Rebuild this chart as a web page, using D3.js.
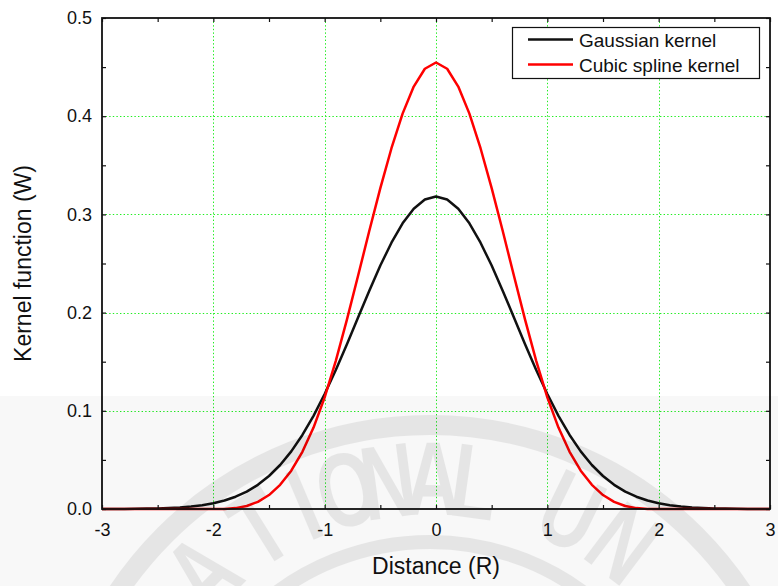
<!DOCTYPE html>
<html>
<head>
<meta charset="utf-8">
<script src="https://cdn.jsdelivr.net/npm/d3@7"></script>
<style>
  html, body { margin: 0; padding: 0; background: #ffffff; }
  svg { display: block; }
</style>
</head>
<body>
<svg id="chart" width="778" height="586"></svg>
<script>
const distance = [
  -3.0, -2.9, -2.8, -2.7, -2.6, -2.5, -2.4, -2.3, -2.2, -2.1,
  -2.0, -1.9, -1.8, -1.7, -1.6, -1.5, -1.4, -1.3, -1.2, -1.1,
  -1.0, -0.9, -0.8, -0.7, -0.6, -0.5, -0.4, -0.3, -0.2, -0.1,
  0.0,
  0.1, 0.2, 0.3, 0.4, 0.5, 0.6, 0.7, 0.8, 0.9, 1.0,
  1.1, 1.2, 1.3, 1.4, 1.5, 1.6, 1.7, 1.8, 1.9, 2.0,
  2.1, 2.2, 2.3, 2.4, 2.5, 2.6, 2.7, 2.8, 2.9, 3.0
];

const gaussian = [
  0.0000, 0.0001, 0.0001, 0.0002, 0.0004, 0.0006, 0.0010, 0.0016, 0.0025, 0.0039,
  0.0058, 0.0086, 0.0125, 0.0177, 0.0246, 0.0336, 0.0448, 0.0587, 0.0754, 0.0949,
  0.1171, 0.1416, 0.1678, 0.1950, 0.2221, 0.2479, 0.2712, 0.2909, 0.3058, 0.3151,
  0.3183,
  0.3151, 0.3058, 0.2909, 0.2712, 0.2479, 0.2221, 0.1950, 0.1678, 0.1416, 0.1171,
  0.0949, 0.0754, 0.0587, 0.0448, 0.0336, 0.0246, 0.0177, 0.0125, 0.0086, 0.0058,
  0.0039, 0.0025, 0.0016, 0.0010, 0.0006, 0.0004, 0.0002, 0.0001, 0.0001, 0.0000
];

const cubicSpline = [
  0.0000, 0.0000, 0.0000, 0.0000, 0.0000, 0.0000, 0.0000, 0.0000, 0.0000, 0.0000,
  0.0000, 0.0001, 0.0009, 0.0031, 0.0073, 0.0142, 0.0246, 0.0390, 0.0582, 0.0829,
  0.1137, 0.1509, 0.1928, 0.2375, 0.2828, 0.3268, 0.3674, 0.4026, 0.4302, 0.4483,
  0.4547,
  0.4483, 0.4302, 0.4026, 0.3674, 0.3268, 0.2828, 0.2375, 0.1928, 0.1509, 0.1137,
  0.0829, 0.0582, 0.0390, 0.0246, 0.0142, 0.0073, 0.0031, 0.0009, 0.0001, 0.0000,
  0.0000, 0.0000, 0.0000, 0.0000, 0.0000, 0.0000, 0.0000, 0.0000, 0.0000, 0.0000
];

const seriesNames = ['Gaussian kernel', 'Cubic spline kernel'];
const xTicks = [-3, -2, -1, 0, 1, 2, 3];
const xMinorTicks = [-3, -2.5, -2, -1.5, -1, -0.5, 0, 0.5, 1, 1.5, 2, 2.5, 3];
const yTicks = [0, 0.1, 0.2, 0.3, 0.4, 0.5];
const yMinorTicks = [0, 0.05, 0.1, 0.15, 0.2, 0.25, 0.3, 0.35, 0.4, 0.45, 0.5];
const xGrid = [-2, -1, 0, 1, 2];
const yGrid = [0.1, 0.2, 0.3, 0.4];

const FONT = '"Liberation Sans", Arial, sans-serif';
const LEFT = 102;
const RIGHT = 770;
const TOP = 18;
const BOTTOM = 509;
const colors = ['#111111', '#ff0000'];

const svg = d3.select('#chart');

const x = d3.scaleLinear().domain([-3, 3]).range([LEFT, RIGHT]);
const y = d3.scaleLinear().domain([0, 0.5]).range([BOTTOM, TOP]);

// dotted green grid
const grid = svg.append('g')
  .attr('stroke', '#22ee22')
  .attr('stroke-width', 1)
  .attr('stroke-dasharray', '1.4,2.2');

grid.selectAll('line.vx')
  .data(xGrid)
  .join('line')
  .attr('x1', (d) => Math.round(x(d)) + 0.5)
  .attr('x2', (d) => Math.round(x(d)) + 0.5)
  .attr('y1', TOP)
  .attr('y2', BOTTOM);

grid.selectAll('line.hy')
  .data(yGrid)
  .join('line')
  .attr('x1', LEFT)
  .attr('x2', RIGHT)
  .attr('y1', (d) => Math.round(y(d)) + 0.5)
  .attr('y2', (d) => Math.round(y(d)) + 0.5);

// curves
const line = d3.line()
  .x((d) => x(d[0]))
  .y((d) => y(d[1]));

[gaussian, cubicSpline].forEach((values, i) => {
  svg.append('path')
    .datum(distance.map((d, k) => [d, values[k]]))
    .attr('fill', 'none')
    .attr('stroke', colors[i])
    .attr('stroke-width', 2.5)
    .attr('stroke-linejoin', 'round')
    .attr('d', line);
});

// axes with inward ticks
function styleAxis(g) {
  g.select('.domain').remove();
  g.selectAll('.tick line').attr('stroke', '#111111').attr('stroke-width', 1.2);
  g.selectAll('.tick text')
    .attr('fill', '#111111')
    .attr('font-size', 18)
    .attr('font-family', FONT);
}

svg.append('g')
  .attr('transform', `translate(0,${BOTTOM})`)
  .call(d3.axisBottom(x).tickValues(xMinorTicks).tickSize(-4).tickFormat(''))
  .call(styleAxis);

svg.append('g')
  .attr('transform', `translate(0,${BOTTOM})`)
  .call(d3.axisBottom(x).tickValues(xTicks).tickSize(0).tickPadding(14).tickFormat((d) => String(d)))
  .call(styleAxis);

svg.append('g')
  .attr('transform', `translate(0,${TOP})`)
  .call(d3.axisTop(x).tickValues(xMinorTicks).tickSize(-4).tickFormat(''))
  .call(styleAxis);

svg.append('g')
  .attr('transform', `translate(${LEFT},0)`)
  .call(d3.axisLeft(y).tickValues(yMinorTicks).tickSize(-4).tickFormat(''))
  .call(styleAxis);

svg.append('g')
  .attr('transform', `translate(${LEFT},0)`)
  .call(d3.axisLeft(y).tickValues(yTicks).tickSize(0).tickPadding(10).tickFormat((d) => d.toFixed(1)))
  .call(styleAxis);

svg.append('g')
  .attr('transform', `translate(${RIGHT},0)`)
  .call(d3.axisRight(y).tickValues(yMinorTicks).tickSize(-4).tickFormat(''))
  .call(styleAxis);

// frame
svg.append('rect')
  .attr('x', LEFT)
  .attr('y', TOP)
  .attr('width', RIGHT - LEFT)
  .attr('height', BOTTOM - TOP)
  .attr('fill', 'none')
  .attr('stroke', '#111111')
  .attr('stroke-width', 1.8);

// axis titles
svg.append('text')
  .attr('x', (LEFT + RIGHT) / 2)
  .attr('y', 574)
  .attr('text-anchor', 'middle')
  .attr('fill', '#111111')
  .attr('font-size', 23)
  .attr('font-family', FONT)
  .text('Distance (R)');

svg.append('text')
  .attr('transform', `translate(31,${(TOP + BOTTOM) / 2}) rotate(-90)`)
  .attr('text-anchor', 'middle')
  .attr('fill', '#111111')
  .attr('font-size', 23)
  .attr('font-family', FONT)
  .text('Kernel function (W)');

// legend
const legend = svg.append('g').attr('transform', 'translate(512,27)');

legend.append('rect')
  .attr('x', 0.5)
  .attr('y', 0.5)
  .attr('width', 247)
  .attr('height', 51)
  .attr('fill', '#ffffff')
  .attr('stroke', '#111111')
  .attr('stroke-width', 1.2);

seriesNames.forEach((name, i) => {
  const rowY = 12.5 + i * 25;
  legend.append('line')
    .attr('x1', 16)
    .attr('x2', 61)
    .attr('y1', rowY)
    .attr('y2', rowY)
    .attr('stroke', colors[i])
    .attr('stroke-width', 2.5);
  legend.append('text')
    .attr('x', 67)
    .attr('y', rowY + 7)
    .attr('fill', '#111111')
    .attr('font-size', 19)
    .attr('font-family', FONT)
    .text(name);
});

// faint university watermark over the lower part
const mark = svg.append('g').attr('pointer-events', 'none');

mark.append('rect')
  .attr('x', 0)
  .attr('y', 396)
  .attr('width', 778)
  .attr('height', 190)
  .attr('fill', '#000000')
  .attr('opacity', 0.028);

const seal = mark.append('g')
  .attr('transform', 'translate(430,800)')
  .attr('opacity', 0.07);

seal.append('circle')
  .attr('r', 375)
  .attr('fill', 'none')
  .attr('stroke', '#000000')
  .attr('stroke-width', 20);

seal.append('circle')
  .attr('r', 258)
  .attr('fill', 'none')
  .attr('stroke', '#000000')
  .attr('stroke-width', 14);

const sealLetters = ['A', 'T', 'I', 'O', 'N', 'A', 'L', 'U', 'N'];
const sealAngles = [-45, -32, -23, -15, -7.5, 0.5, 8, 26, 37];

sealLetters.forEach((ch, i) => {
  seal.append('text')
    .attr('transform', `rotate(${sealAngles[i]}) translate(0,-285) scale(0.72,1)`)
    .attr('text-anchor', 'middle')
    .attr('fill', '#000000')
    .attr('font-size', 105)
    .attr('font-weight', 700)
    .attr('font-family', FONT)
    .text(ch);
});
</script>
</body>
</html>
